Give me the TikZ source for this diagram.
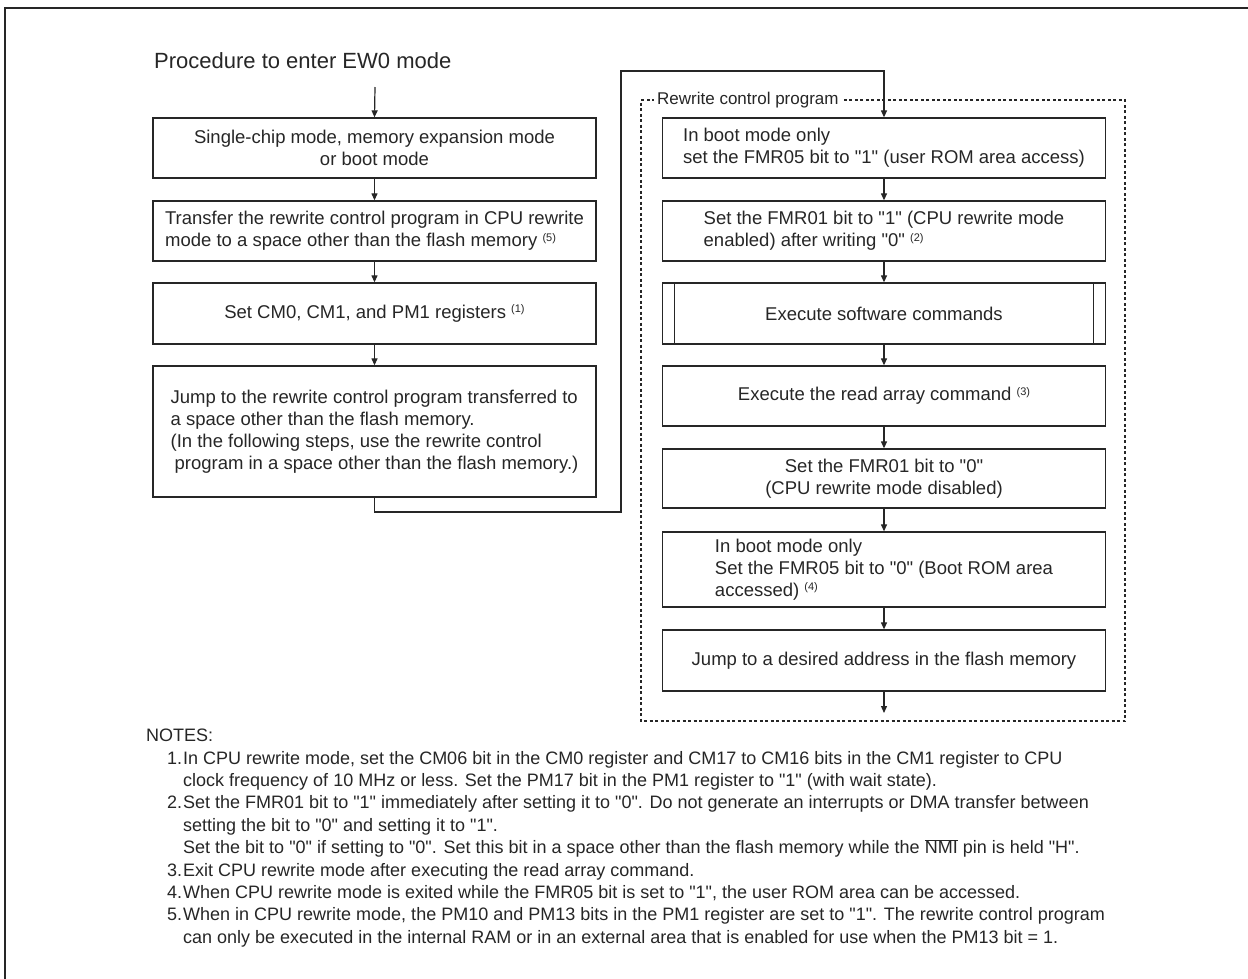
\documentclass[tikz,border=0pt]{standalone}
\usepackage{fontspec}
\setmainfont{Liberation Sans}
\newfontfamily\arialf{Liberation Sans}
\usetikzlibrary{arrows.meta}
\definecolor{ink}{HTML}{262626}
\newcommand{\fnref}[1]{\raisebox{0.55ex}{\fontsize{11}{11}\selectfont(#1)}}
\begin{document}
\arialf
\begin{tikzpicture}[x=1pt,y=-1pt,
  every node/.style={text=ink},
  box/.style={draw=ink, line width=1.3pt, minimum width=443pt, inner sep=0pt,
    font=\arialf\fontsize{18.5}{22}\selectfont, align=center},
  arr/.style={draw=ink, line width=1.2pt, -{Triangle[length=7pt,width=6pt]}},
  frame/.style={draw=ink, line width=2.2pt},
  group/.style={draw=ink, line width=1.4pt, dash pattern=on 3pt off 2.5pt},
]
\useasboundingbox (0,0) rectangle (1248,978);
% outer frame (extends beyond the picture)
\draw[frame] (5,990) -- (5,8) -- (1260,8);

% title
\node[anchor=west, font=\arialf\fontsize{22}{26}\selectfont, inner sep=0pt] (title) at (154,61) {Procedure to enter EW0 mode};
\coordinate (t0) at (375,87);

% left column
\node[box, minimum height=60pt] (B1) at (374.5,148) {Single-chip mode, memory expansion mode\\or boot mode};
\node[box, minimum height=60pt, align=left] (B2) at (374.5,231) {Transfer the rewrite control program in CPU rewrite\\mode to a space other than the flash memory \fnref{5}};
\node[box, minimum height=61pt] (B3) at (374.5,313.5) {Set CM0, CM1, and PM1 registers \fnref{1}};
\node[box, minimum height=131pt, align=left] (B4) at (374.5,431.5) {Jump to the rewrite control program transferred to\\a space other than the flash memory.\\(In the following steps, use the rewrite control\\\hspace*{4pt}program in a space other than the flash memory.)};

% group frame
\draw[group] (655,100) -- (641,100) -- (641,721) -- (1125,721) -- (1125,100) -- (800,100);
\node[anchor=west, fill=white, inner xsep=3pt, inner ysep=1pt, font=\arialf\fontsize{17}{20}\selectfont] (glabel) at (654,100) {Rewrite control program};

% right column
\node[box, minimum height=60pt, align=left] (R1) at (884,148) {In boot mode only\\set the FMR05 bit to "1" (user ROM area access)};
\node[box, minimum height=60pt, align=left] (R2) at (884,231) {Set the FMR01 bit to "1" (CPU rewrite mode\\enabled) after writing "0" \fnref{2}};
\node[box, minimum height=61pt] (R3) at (884,313.5) {Execute software commands};
\draw[draw=ink, line width=1.1pt] ([xshift=13pt]R3.north west) -- ([xshift=13pt]R3.south west)
  ([xshift=-13pt]R3.north east) -- ([xshift=-13pt]R3.south east);
\node[box, minimum height=60pt] (R4) at (884,396) {Execute the read array command \fnref{3}};
\node[box, minimum height=59pt] (R5) at (884,478.5) {Set the FMR01 bit to "0"\\(CPU rewrite mode disabled)};
\node[box, minimum height=75pt, align=left] (R6) at (884,569.5) {In boot mode only\\Set the FMR05 bit to "0" (Boot ROM area\\accessed) \fnref{4}};
\node[box, minimum height=61pt] (R7) at (884,660.5) {Jump to a desired address in the flash memory};
\coordinate (rend) at (884,713);

% connectors
\draw[arr] (t0) -- (B1.north);
\draw[arr] (B1) -- (B2);
\draw[arr] (B2) -- (B3);
\draw[arr] (B3) -- (B4);
\coordinate (j1) at (621,512);
\coordinate (j2) at (621,71);
\draw[arr] (B4.south) |- (j1) -- (j2) -| (R1.north);
\draw[arr] (R1) -- (R2);
\draw[arr] (R2) -- (R3);
\draw[arr] (R3) -- (R4);
\draw[arr] (R4) -- (R5);
\draw[arr] (R5) -- (R6);
\draw[arr] (R6) -- (R7);
\draw[arr] (R7) -- (rend);

% notes
\node[anchor=north west, inner sep=0pt, align=left, font=\arialf\fontsize{18}{22.4}\selectfont] (notes) at (146,729) {%
NOTES:\\
\hspace*{21pt}\makebox[16pt][l]{1.}In CPU rewrite mode, set the CM06 bit in the CM0 register and CM17 to CM16 bits in the CM1 register to CPU\\
\hspace*{37pt}clock frequency of 10 MHz or less. Set the PM17 bit in the PM1 register to "1" (with wait state).\\
\hspace*{21pt}\makebox[16pt][l]{2.}Set the FMR01 bit to "1" immediately after setting it to "0". Do not generate an interrupts or DMA transfer between\\
\hspace*{37pt}setting the bit to "0" and setting it to "1".\\
\hspace*{37pt}Set the bit to "0" if setting to "0". Set this bit in a space other than the flash memory while the $\overline{\mbox{NMI}}$ pin is held "H".\\
\hspace*{21pt}\makebox[16pt][l]{3.}Exit CPU rewrite mode after executing the read array command.\\
\hspace*{21pt}\makebox[16pt][l]{4.}When CPU rewrite mode is exited while the FMR05 bit is set to "1", the user ROM area can be accessed.\\
\hspace*{21pt}\makebox[16pt][l]{5.}When in CPU rewrite mode, the PM10 and PM13 bits in the PM1 register are set to "1". The rewrite control program\\
\hspace*{37pt}can only be executed in the internal RAM or in an external area that is enabled for use when the PM13 bit = 1.};
\end{tikzpicture}
\end{document}
